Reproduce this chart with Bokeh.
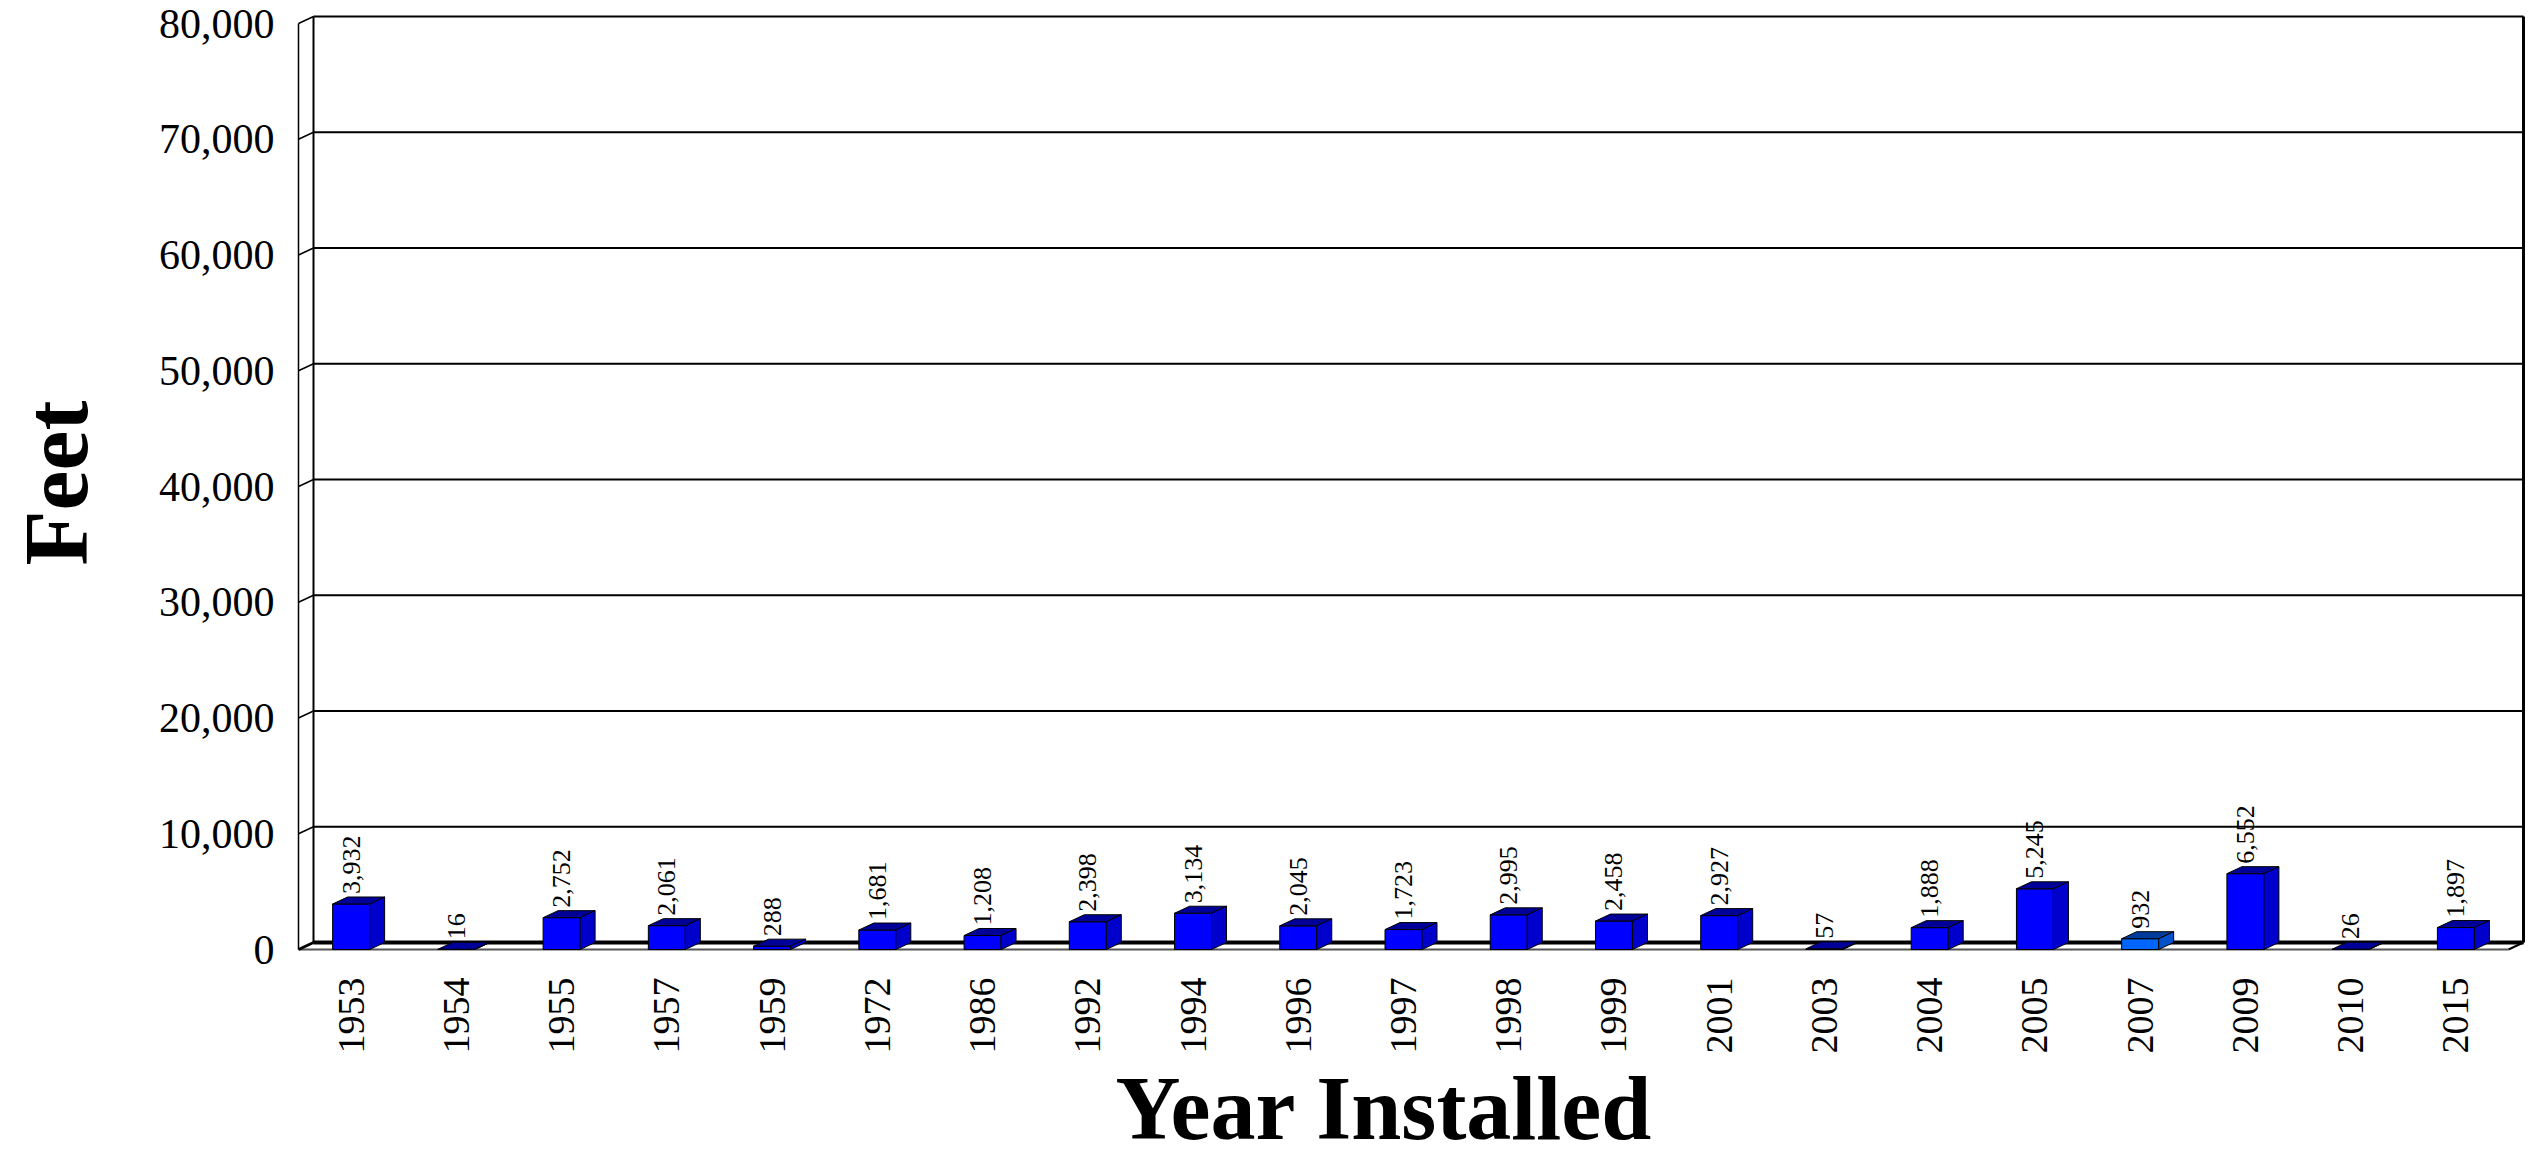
import math
from bokeh.plotting import figure
from bokeh.models import Range1d, FixedTicker, NumeralTickFormatter, Title
from bokeh.embed import file_html
from bokeh.resources import INLINE
from bokeh.core.properties import value

# ---- data ----
years = ["1953", "1954", "1955", "1957", "1959", "1972", "1986", "1992", "1994", "1996",
         "1997", "1998", "1999", "2001", "2003", "2004", "2005", "2007", "2009", "2010", "2015"]
feet = [3932, 16, 2752, 2061, 288, 1681, 1208, 2398, 3134, 2045,
        1723, 2995, 2458, 2927, 57, 1888, 5245, 932, 6552, 26, 1897]
y_ticks = [0, 10000, 20000, 30000, 40000, 50000, 60000, 70000, 80000]
highlight_year = "2007"

# ---- geometry / style ----
FONT = "Liberation Serif"
N = len(years)
YMAX = y_ticks[-1]
W, H = 2535, 1157
BL, BR, BT, BB = 294, 8, 12, 204
PAD = 4
DX_PX, DY_PX = 15, 7
FW = W - BL - BR
FH = H - BT - BB
px_per_x = (FW - DX_PX - 2 * PAD) / N
u_per_py = YMAX / (FH - DY_PX - 2 * PAD)
DXD = DX_PX / px_per_x
DYD = DY_PX * u_per_py
BAR_W = 37 / px_per_x

x0, x1 = -0.5, N - 0.5

p = figure(width=W, height=H, output_backend="svg", toolbar_location=None,
           x_range=Range1d(x0 - PAD / px_per_x, x1 + DXD + PAD / px_per_x),
           y_range=Range1d(-PAD * u_per_py, YMAX + DYD + PAD * u_per_py),
           min_border_left=BL, min_border_right=BR, min_border_top=BT, min_border_bottom=BB)
p.outline_line_color = None
p.xgrid.visible = False
p.ygrid.visible = False
p.background_fill_color = "white"
p.border_fill_color = "white"

# floor
p.patch([x0, x1, x1 + DXD, x0 + DXD], [0, 0, DYD, DYD], fill_color="white", line_color=None)
p.line([x0, x1], [0, 0], line_color="#555555", line_width=2)
p.line([x1, x1 + DXD], [0, DYD], line_color="black", line_width=2)

# back wall gridlines + left side wall
for v in y_ticks:
    lw = 4 if v == 0 else 2
    p.line([x0 + DXD, x1 + DXD], [v + DYD, v + DYD], line_color="black", line_width=lw)
    p.line([x0, x0 + DXD], [v, v + DYD], line_color="black", line_width=3 if v == 0 else 1.5)
p.line([x0, x0], [0, YMAX], line_color="black", line_width=1.5)
p.line([x0 + DXD, x0 + DXD], [DYD, YMAX + DYD], line_color="black", line_width=2)
p.line([x1 + DXD, x1 + DXD], [DYD, YMAX + DYD], line_color="black", line_width=3)

# bars
front_c, top_c, side_c = [], [], []
for y in years:
    if y == highlight_year:
        front_c.append("#0066FF"); top_c.append("#003C9E"); side_c.append("#0052CC")
    else:
        front_c.append("#0000FF"); top_c.append("#000099"); side_c.append("#0000CC")

xs_c = list(range(N))
lefts = [c - BAR_W / 2 for c in xs_c]
rights = [c + BAR_W / 2 for c in xs_c]
p.quad(left=lefts, right=rights, bottom=[0] * N, top=feet,
       fill_color=front_c, line_color="black", line_width=1)
top_xs = [[l, r, r + DXD, l + DXD] for l, r in zip(lefts, rights)]
top_ys = [[v, v, v + DYD, v + DYD] for v in feet]
p.patches(top_xs, top_ys, fill_color=top_c, line_color="black", line_width=1)
side_xs = [[r, r + DXD, r + DXD, r] for r in rights]
side_ys = [[0, DYD, v + DYD, v] for v in feet]
p.patches(side_xs, side_ys, fill_color=side_c, line_color="black", line_width=1)

# value labels
p.text(x=xs_c, y=[v + DYD for v in feet], text=[f"{v:,}" for v in feet],
       angle=math.pi / 2, text_align="left", text_baseline="middle", y_offset=-3,
       text_font=value(FONT), text_font_size="26px", text_color="black")

# axes
ya = p.yaxis[0]
ya.ticker = FixedTicker(ticks=y_ticks)
ya.formatter = NumeralTickFormatter(format="0,0")
ya.axis_line_color = None
ya.major_tick_line_color = None
ya.minor_tick_line_color = None
ya.major_tick_out = 0
ya.major_label_standoff = 20
ya.major_label_text_font = FONT
ya.major_label_text_font_size = "42px"
ya.major_label_text_color = "black"
ya.axis_label = "Feet"
ya.axis_label_standoff = 50
ya.axis_label_text_font = FONT
ya.axis_label_text_font_size = "90px"
ya.axis_label_text_font_style = "bold"
ya.axis_label_text_color = "black"

xa = p.xaxis[0]
xa.ticker = FixedTicker(ticks=xs_c)
xa.major_label_overrides = {i: y for i, y in enumerate(years)}
xa.major_label_orientation = math.pi / 2
xa.axis_line_color = None
xa.major_tick_line_color = None
xa.minor_tick_line_color = None
xa.major_tick_out = 0
xa.major_label_standoff = 24
xa.major_label_text_font = FONT
xa.major_label_text_font_size = "38px"
xa.major_label_text_color = "black"

x_title = Title(text="Year Installed", align="left", offset=1115 - BL, standoff=0,
                vertical_align="bottom", text_font=FONT, text_font_size="90px",
                text_font_style="bold", text_color="black")
p.add_layout(x_title, "below")

open("out.html", "w").write(file_html(p, INLINE))
